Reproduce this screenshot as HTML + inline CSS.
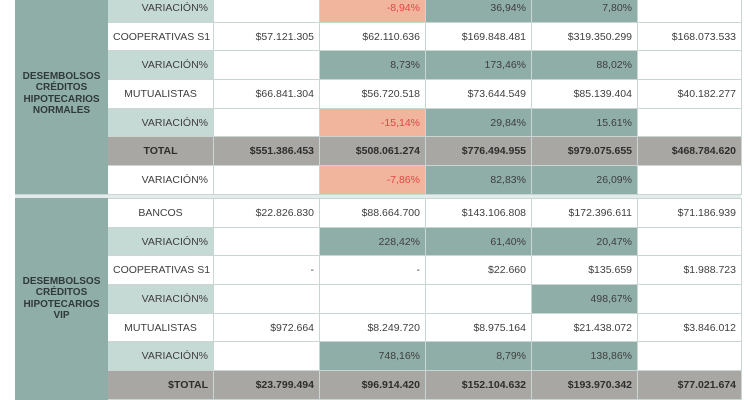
<!DOCTYPE html>
<html><head><meta charset="utf-8"><style>
body{margin:0;width:750px;height:400px;overflow:hidden;background:#fff;font-family:"Liberation Sans",sans-serif;position:relative}
table{position:absolute;left:15px;border-collapse:collapse;table-layout:fixed;width:726px}
td{border:1px solid #c9d6d3;font-size:10.5px;color:#3e3e3e;text-align:right;padding:0 5px;white-space:nowrap;overflow:hidden;background:#fff}
td+td+td+td,td+td+td+td+td{border-left:1px solid #6f918b}
td.g{background:#8faea8;text-align:center;font-weight:bold;color:#2f3a39;font-size:10px;line-height:11.5px;white-space:normal;border-color:#8faea8}
td.l{text-align:right;background:#c5d9d5}
td.c{text-align:center}
td.t{background:#8faea8}
td.s{background:#f1b49c;color:#e04848}
td.x{background:#a9a7a3;font-weight:bold;color:#2e2e2e}
tr{height:28.7px}
#sep{position:absolute;left:15px;top:194px;width:726px;height:4px;background:#e4eceb;border-top:1px solid #c9d6d3}
</style></head><body>
<table style="top:-7px">
<colgroup><col style="width:92px"><col style="width:106px"><col style="width:106px"><col style="width:106px"><col style="width:106px"><col style="width:106px"><col style="width:104px"></colgroup>
<tr><td class="g" rowspan="7">DESEMBOLSOS<br>CRÉDITOS<br>HIPOTECARIOS<br>NORMALES</td><td class="l">VARIACIÓN%</td><td></td><td class="s">-8,94%</td><td class="t">36,94%</td><td class="t">7,80%</td><td></td></tr>
<tr><td class="c">COOPERATIVAS S1</td><td>$57.121.305</td><td>$62.110.636</td><td>$169.848.481</td><td>$319.350.299</td><td>$168.073.533</td></tr>
<tr><td class="l">VARIACIÓN%</td><td></td><td class="t">8,73%</td><td class="t">173,46%</td><td class="t">88,02%</td><td></td></tr>
<tr><td class="c">MUTUALISTAS</td><td>$66.841.304</td><td>$56.720.518</td><td>$73.644.549</td><td>$85.139.404</td><td>$40.182.277</td></tr>
<tr><td class="l">VARIACIÓN%</td><td></td><td class="s">-15,14%</td><td class="t">29,84%</td><td class="t">15.61%</td><td></td></tr>
<tr><td class="x" style="text-align:center">TOTAL</td><td class="x">$551.386.453</td><td class="x">$508.061.274</td><td class="x">$776.494.955</td><td class="x">$979.075.655</td><td class="x">$468.784.620</td></tr>
<tr><td style="text-align:right">VARIACIÓN%</td><td></td><td class="s">-7,86%</td><td class="t">82,83%</td><td class="t">26,09%</td><td></td></tr>
</table>
<div id="sep"></div>
<table style="top:198px">
<colgroup><col style="width:92px"><col style="width:106px"><col style="width:106px"><col style="width:106px"><col style="width:106px"><col style="width:106px"><col style="width:104px"></colgroup>
<tr><td class="g" rowspan="7">DESEMBOLSOS<br>CRÉDITOS<br>HIPOTECARIOS<br>VIP</td><td class="c">BANCOS</td><td>$22.826.830</td><td>$88.664.700</td><td>$143.106.808</td><td>$172.396.611</td><td>$71.186.939</td></tr>
<tr><td class="l">VARIACIÓN%</td><td></td><td class="t">228,42%</td><td class="t">61,40%</td><td class="t">20,47%</td><td></td></tr>
<tr><td class="c">COOPERATIVAS S1</td><td>-</td><td>-</td><td>$22.660</td><td>$135.659</td><td>$1.988.723</td></tr>
<tr><td class="l">VARIACIÓN%</td><td></td><td></td><td></td><td class="t">498,67%</td><td></td></tr>
<tr><td class="c">MUTUALISTAS</td><td>$972.664</td><td>$8.249.720</td><td>$8.975.164</td><td>$21.438.072</td><td>$3.846.012</td></tr>
<tr><td class="l">VARIACIÓN%</td><td></td><td class="t">748,16%</td><td class="t">8,79%</td><td class="t">138,86%</td><td></td></tr>
<tr><td class="x">$TOTAL</td><td class="x">$23.799.494</td><td class="x">$96.914.420</td><td class="x">$152.104.632</td><td class="x">$193.970.342</td><td class="x">$77.021.674</td></tr>
</table>
</body></html>
